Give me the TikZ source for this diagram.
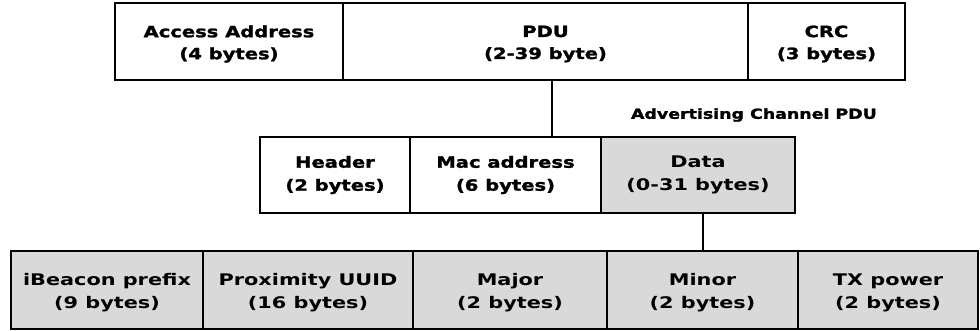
\documentclass[tikz,border=0pt]{standalone}
\usepackage{fontspec}
\newfontfamily\heavyfont[FakeStretch=1.26,FakeBold=1.6]{DejaVu Sans Bold}
\newfontfamily\lowfont[FakeStretch=1.3]{DejaVu Sans Bold}
\definecolor{cellgray}{HTML}{D9D9D9}
\tikzset{
  cell/.style={draw=black, line width=1.8pt, inner sep=0pt, anchor=center},
  toptext/.style={inner sep=0pt, align=center, yshift=-2.5pt, font=\heavyfont\fontsize{15.5}{22}\selectfont},
  lowtext/.style={inner sep=0pt, align=center, yshift=-3pt, font=\lowfont\fontsize{16}{23}\selectfont},
  topcell/.style={cell, fill=white, minimum height=77pt},
  midcell/.style={cell, fill=white, minimum height=76pt, align=center, font=\heavyfont\fontsize{15.5}{23}\selectfont},
  lowcell/.style={cell, fill=cellgray, minimum height=78pt},
  link/.style={draw=black, line width=2pt}
}
\begin{document}
\begin{tikzpicture}[x=1pt,y=-1pt]
\useasboundingbox (0,0) rectangle (980,330);
% top row
\node[topcell, minimum width=228pt, label={[toptext]center:Access Address\\(4 bytes)}] (aa) at (229,41.5) {};
\node[topcell, minimum width=405pt, label={[toptext]center:PDU\\(2-39 byte)}] (pdu) at (545.5,41.5) {};
\node[topcell, minimum width=157pt, label={[toptext]center:CRC\\(3 bytes)}] (crc) at (826.5,41.5) {};
% middle row
\node[midcell, minimum width=150pt] (hdr) at (335,175) {Header\\(2 bytes)};
\node[midcell, minimum width=191pt] (mac) at (505.5,175) {Mac address\\(6 bytes)};
\node[midcell, fill=cellgray, minimum width=194pt, font=\lowfont\fontsize{16}{23}\selectfont] (data) at (698,175) {Data\\(0-31 bytes)};
\node[anchor=east, inner sep=0pt, font=\heavyfont\fontsize{13.8}{15}\selectfont] (adv) at (877,115) {Advertising Channel PDU};
% bottom row
\node[lowcell, minimum width=192pt, label={[lowtext]center:iBeacon prefix\\(9 bytes)}] (pre) at (107,290) {};
\node[lowcell, minimum width=210pt, label={[lowtext]center:Proximity UUID\\(16 bytes)}] (uuid) at (308,290) {};
\node[lowcell, minimum width=194pt, label={[lowtext]center:Major\\(2 bytes)}] (major) at (510,290) {};
\node[lowcell, minimum width=191pt, label={[lowtext]center:Minor\\(2 bytes)}] (minor) at (702.5,290) {};
\node[lowcell, minimum width=180pt, label={[lowtext]center:TX power\\(2 bytes)}] (tx) at (888,290) {};
% connectors
\coordinate (c1) at (552,100);
\draw[link] (pdu.south -| c1) -- (mac.north -| c1);
\draw[link] (data.south -| minor.north) -- (minor.north);
\end{tikzpicture}
\end{document}
